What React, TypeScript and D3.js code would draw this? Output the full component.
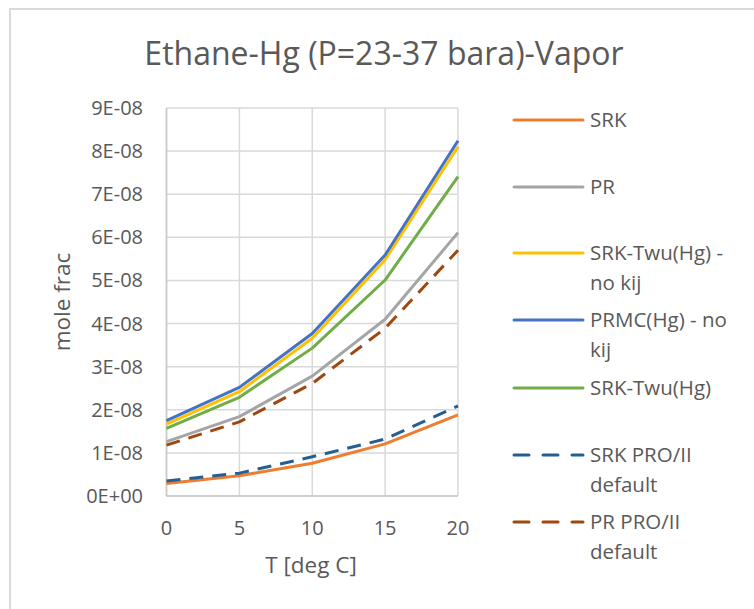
import React, { useRef, useEffect } from 'react';
import * as d3 from 'd3';

// temperatures [deg C]
const temps = [0, 5, 10, 15, 20];

// mole fraction of Hg in vapor, per model
const srk = [2.9e-9, 4.7e-9, 7.6e-9, 1.21e-8, 1.88e-8];
const pr = [1.26e-8, 1.84e-8, 2.78e-8, 4.1e-8, 6.11e-8];
const srkTwuNoKij = [1.67e-8, 2.42e-8, 3.66e-8, 5.48e-8, 8.1e-8];
const prmcNoKij = [1.75e-8, 2.52e-8, 3.77e-8, 5.59e-8, 8.24e-8];
const srkTwu = [1.57e-8, 2.29e-8, 3.43e-8, 5.01e-8, 7.41e-8];
const srkProII = [3.5e-9, 5.3e-9, 9.1e-9, 1.32e-8, 2.09e-8];
const prProII = [1.18e-8, 1.72e-8, 2.61e-8, 3.89e-8, 5.7e-8];

const yTicks = [0, 1e-8, 2e-8, 3e-8, 4e-8, 5e-8, 6e-8, 7e-8, 8e-8, 9e-8];
const yTickLabels = ['0E+00', '1E-08', '2E-08', '3E-08', '4E-08', '5E-08', '6E-08', '7E-08', '8E-08', '9E-08'];

const series = [
  { name: ['SRK'], values: srk, color: '#ED7D31', dashed: false },
  { name: ['PR'], values: pr, color: '#A5A5A5', dashed: false },
  { name: ['SRK-Twu(Hg) -', 'no kij'], values: srkTwuNoKij, color: '#FFC000', dashed: false },
  { name: ['PRMC(Hg) - no', 'kij'], values: prmcNoKij, color: '#4472C4', dashed: false },
  { name: ['SRK-Twu(Hg)'], values: srkTwu, color: '#70AD47', dashed: false },
  { name: ['SRK PRO/II', 'default'], values: srkProII, color: '#255E91', dashed: true },
  { name: ['PR PRO/II', 'default'], values: prProII, color: '#9E480E', dashed: true },
];

const FONT = '"Open Sans", sans-serif';
const TEXT = '#595959';

const Chart = () => {
  const ref = useRef<SVGSVGElement | null>(null);

  useEffect(() => {
    if (!ref.current) return;
    const svg = d3.select(ref.current);
    svg.selectAll('*').remove();

    // chart frame: only the top and left edges fall inside the picture
    svg.append('path')
      .attr('d', 'M10,609 V9 H754')
      .attr('fill', 'none')
      .attr('stroke', '#d9d9d9')
      .attr('stroke-width', 2);

    const x = d3.scaleLinear().domain([0, 20]).range([166.5, 458]);
    const y = d3.scaleLinear().domain([0, 9e-8]).range([496, 108]);

    // grid
    svg.append('g').selectAll('line')
      .data(yTicks)
      .enter().append('line')
      .attr('x1', x(0)).attr('x2', x(20))
      .attr('y1', d => y(d)).attr('y2', d => y(d))
      .attr('stroke', '#d9d9d9').attr('stroke-width', 1.5);
    svg.append('g').selectAll('line')
      .data(temps)
      .enter().append('line')
      .attr('x1', d => x(d)).attr('x2', d => x(d))
      .attr('y1', y(9e-8)).attr('y2', y(0))
      .attr('stroke', '#d9d9d9').attr('stroke-width', 1.5);

    // axis lines
    svg.append('line')
      .attr('x1', x(0)).attr('x2', x(0)).attr('y1', y(9e-8)).attr('y2', y(0))
      .attr('stroke', '#c8c8c8').attr('stroke-width', 1.5);
    svg.append('line')
      .attr('x1', x(0)).attr('x2', x(20)).attr('y1', y(0)).attr('y2', y(0))
      .attr('stroke', '#c8c8c8').attr('stroke-width', 1.5);

    // tick labels
    svg.append('g').selectAll('text')
      .data(yTicks)
      .enter().append('text')
      .attr('x', 143).attr('y', d => y(d))
      .attr('dy', '0.35em')
      .attr('text-anchor', 'end')
      .attr('font-family', FONT).attr('font-size', 20).attr('fill', TEXT)
      .text((d, i) => yTickLabels[i]);
    svg.append('g').selectAll('text')
      .data(temps)
      .enter().append('text')
      .attr('x', d => x(d)).attr('y', 528)
      .attr('dy', '0.35em')
      .attr('text-anchor', 'middle')
      .attr('font-family', FONT).attr('font-size', 20).attr('fill', TEXT)
      .text(d => String(d));

    // axis titles
    svg.append('text')
      .attr('x', 311).attr('y', 565).attr('dy', '0.35em')
      .attr('text-anchor', 'middle')
      .attr('font-family', FONT).attr('font-size', 22.5).attr('fill', TEXT)
      .text('T [deg C]');
    svg.append('text')
      .attr('transform', `translate(62,${y(4.5e-8)}) rotate(-90)`)
      .attr('dy', '0.35em')
      .attr('text-anchor', 'middle')
      .attr('font-family', FONT).attr('font-size', 22.5).attr('fill', TEXT)
      .text('mole frac');

    // title
    svg.append('text')
      .attr('x', 384).attr('y', 65)
      .attr('text-anchor', 'middle')
      .attr('font-family', FONT).attr('font-size', 32).attr('fill', TEXT)
      .text('Ethane-Hg (P=23-37 bara)-Vapor');

    // lines
    const line = d3.line<number>()
      .x((d, i) => x(temps[i]))
      .y(d => y(d));
    series.forEach(s => {
      svg.append('path')
        .attr('d', line(s.values))
        .attr('fill', 'none')
        .attr('stroke', s.color)
        .attr('stroke-width', 3)
        .attr('stroke-linejoin', 'round')
        .attr('stroke-dasharray', s.dashed ? '14,9' : null);
    });

    // legend
    const legendY = [120, 187, 253, 320, 388, 455, 522];
    series.forEach((s, i) => {
      const g = svg.append('g').attr('transform', `translate(0,${legendY[i]})`);
      g.append('line')
        .attr('x1', 514).attr('x2', 583).attr('y1', 0).attr('y2', 0)
        .attr('stroke', s.color).attr('stroke-width', 3)
        .attr('stroke-linecap', 'round')
        .attr('stroke-dasharray', s.dashed ? '15,14' : null);
      s.name.forEach((t, j) => {
        g.append('text')
          .attr('x', 590).attr('y', j * 30).attr('dy', '0.35em')
          .attr('font-family', FONT).attr('font-size', 20.5).attr('fill', TEXT)
          .text(t);
      });
    });
  }, []);

  return (
    <svg
      ref={ref}
      width={754}
      height={609}
      style={{ display: 'block', position: 'absolute', left: 0, top: 0 }}
    />
  );
};

export default function App() {
  return <Chart />;
}
